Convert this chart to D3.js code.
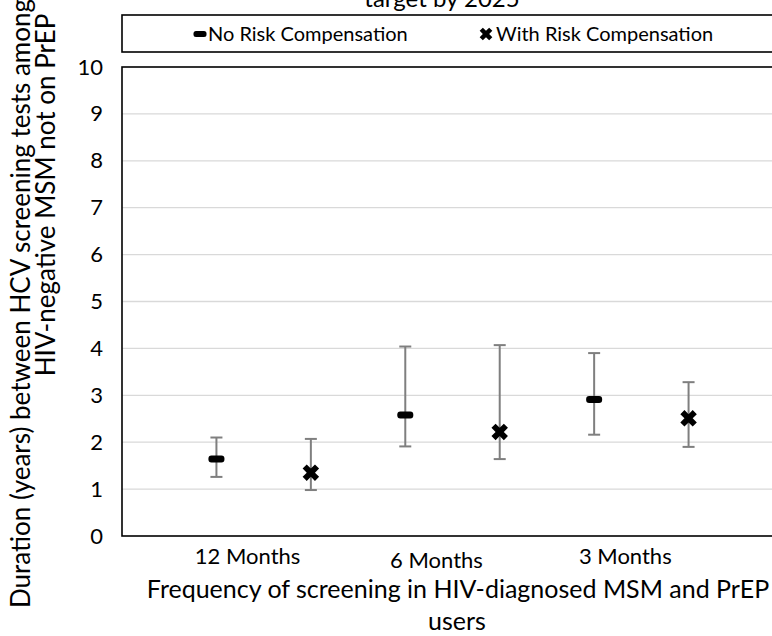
<!DOCTYPE html>
<html>
<head>
<meta charset="utf-8">
<script src="https://cdn.jsdelivr.net/npm/d3@7"></script>
<style>
  html, body { margin: 0; padding: 0; background: #fff; }
  svg { display: block; font-family: Lato, "Open Sans", sans-serif; }
</style>
</head>
<body>
<svg id="chart" width="772" height="636"></svg>
<script>
// Screening frequency groups and the two model scenarios
const categories = ["12 Months", "6 Months", "3 Months"];
const seriesNames = ["No Risk Compensation", "With Risk Compensation"];

// Median duration (years) with lower / upper bounds, per scenario
const noRiskMid   = [1.64, 2.58, 2.91];
const noRiskLow   = [1.26, 1.91, 2.16];
const noRiskHigh  = [2.10, 4.04, 3.90];
const withRiskMid  = [1.35, 2.22, 2.51];
const withRiskLow  = [0.98, 1.64, 1.90];
const withRiskHigh = [2.07, 4.07, 3.28];

// Horizontal slot of each point (scatter x values)
const noRiskX   = [1, 3, 5];
const withRiskX = [2, 4, 6];
const categoryLabelX = [1.33, 3.33, 5.33];

const yTicks = [0, 1, 2, 3, 4, 5, 6, 7, 8, 9, 10];

const svg = d3.select("#chart");
const plot = { left: 122, top: 67, right: 783, bottom: 536 };

const x = d3.scaleLinear().domain([0, 7]).range([plot.left, plot.right]);
const y = d3.scaleLinear().domain([0, 10]).range([plot.bottom, plot.top]);

// Title (runs off the top edge of the frame)
svg.append("text")
  .attr("x", 442).attr("y", 7)
  .attr("text-anchor", "middle")
  .attr("font-size", 24)
  .attr("fill", "#000")
  .text("target by 2025");

// Gridlines
svg.append("g")
  .selectAll("line")
  .data(yTicks.filter(d => d > 0 && d < 10))
  .join("line")
  .attr("x1", plot.left).attr("x2", plot.right)
  .attr("y1", d => y(d)).attr("y2", d => y(d))
  .attr("stroke", "#d9d9d9").attr("stroke-width", 1.3);

// Plot frame
svg.append("rect")
  .attr("x", plot.left).attr("y", plot.top)
  .attr("width", plot.right - plot.left).attr("height", plot.bottom - plot.top)
  .attr("fill", "none").attr("stroke", "#000").attr("stroke-width", 1.6);

// Y axis
const yAxis = d3.axisLeft(y).tickValues(yTicks).tickSize(0).tickPadding(19);
const yAxisG = svg.append("g").attr("transform", `translate(${plot.left},0)`).call(yAxis);
yAxisG.select(".domain").remove();
yAxisG.selectAll("text")
  .attr("font-size", 22).attr("fill", "#000")
  .attr("font-family", "Lato, sans-serif");

// Category labels below the axis
svg.append("g")
  .selectAll("text")
  .data(categories)
  .join("text")
  .attr("x", (d, i) => x(categoryLabelX[i]))
  .attr("y", (d, i) => i === 1 ? 568 : 564)
  .attr("text-anchor", "middle")
  .attr("font-size", 22)
  .text(d => d);

// Axis titles
svg.append("text")
  .attr("x", 458).attr("y", 598)
  .attr("text-anchor", "middle").attr("font-size", 25)
  .text("Frequency of screening in HIV-diagnosed MSM and PrEP");
svg.append("text")
  .attr("x", 457).attr("y", 630)
  .attr("text-anchor", "middle").attr("font-size", 25)
  .text("users");

svg.append("text")
  .attr("transform", "translate(30,608) rotate(-90)")
  .attr("text-anchor", "start").attr("font-size", 26)
  .text("Duration (years) between HCV screening tests among");
svg.append("text")
  .attr("transform", "translate(55,195) rotate(-90)")
  .attr("text-anchor", "middle").attr("font-size", 26)
  .text("HIV-negative MSM not on PrEP");

// Error bars
function errorBars(xs, lo, hi) {
  const g = svg.append("g").attr("stroke", "#7f7f7f").attr("stroke-width", 2);
  xs.forEach((xv, i) => {
    const cx = x(xv);
    g.append("line").attr("x1", cx).attr("x2", cx).attr("y1", y(lo[i])).attr("y2", y(hi[i]));
    g.append("line").attr("x1", cx - 6).attr("x2", cx + 6).attr("y1", y(lo[i])).attr("y2", y(lo[i]));
    g.append("line").attr("x1", cx - 6).attr("x2", cx + 6).attr("y1", y(hi[i])).attr("y2", y(hi[i]));
  });
}
errorBars(noRiskX, noRiskLow, noRiskHigh);
errorBars(withRiskX, withRiskLow, withRiskHigh);

// Marker shapes
function dash(g, cx, cy, w, h) {
  g.append("rect")
    .attr("x", cx - w / 2).attr("y", cy - h / 2)
    .attr("width", w).attr("height", h)
    .attr("rx", h / 2 - 0.5).attr("fill", "#000");
}
function cross(g, cx, cy, s) {
  g.append("path")
    .attr("d", d3.symbol().type(d3.symbolCross).size(s)())
    .attr("transform", `translate(${cx},${cy}) rotate(45)`)
    .attr("fill", "#000");
}

const markers = svg.append("g");
noRiskX.forEach((xv, i) => dash(markers, x(xv), y(noRiskMid[i]), 16, 7));
withRiskX.forEach((xv, i) => cross(markers, x(xv), y(withRiskMid[i]), 170));

// Legend
const legend = svg.append("g");
legend.append("rect")
  .attr("x", plot.left).attr("y", 15)
  .attr("width", plot.right - plot.left).attr("height", 37)
  .attr("fill", "#fff").attr("stroke", "#000").attr("stroke-width", 1.6);
const legendItems = [
  { name: seriesNames[0], mx: 200, tx: 208, kind: "dash" },
  { name: seriesNames[1], mx: 486, tx: 496, kind: "cross" }
];
legendItems.forEach(it => {
  if (it.kind === "dash") {
    dash(legend, it.mx, 34, 13, 6);
  } else {
    cross(legend, it.mx, 34, 100);
  }
  legend.append("text")
    .attr("x", it.tx).attr("y", 41)
    .attr("font-size", 20)
    .text(it.name);
});
</script>
</body>
</html>
